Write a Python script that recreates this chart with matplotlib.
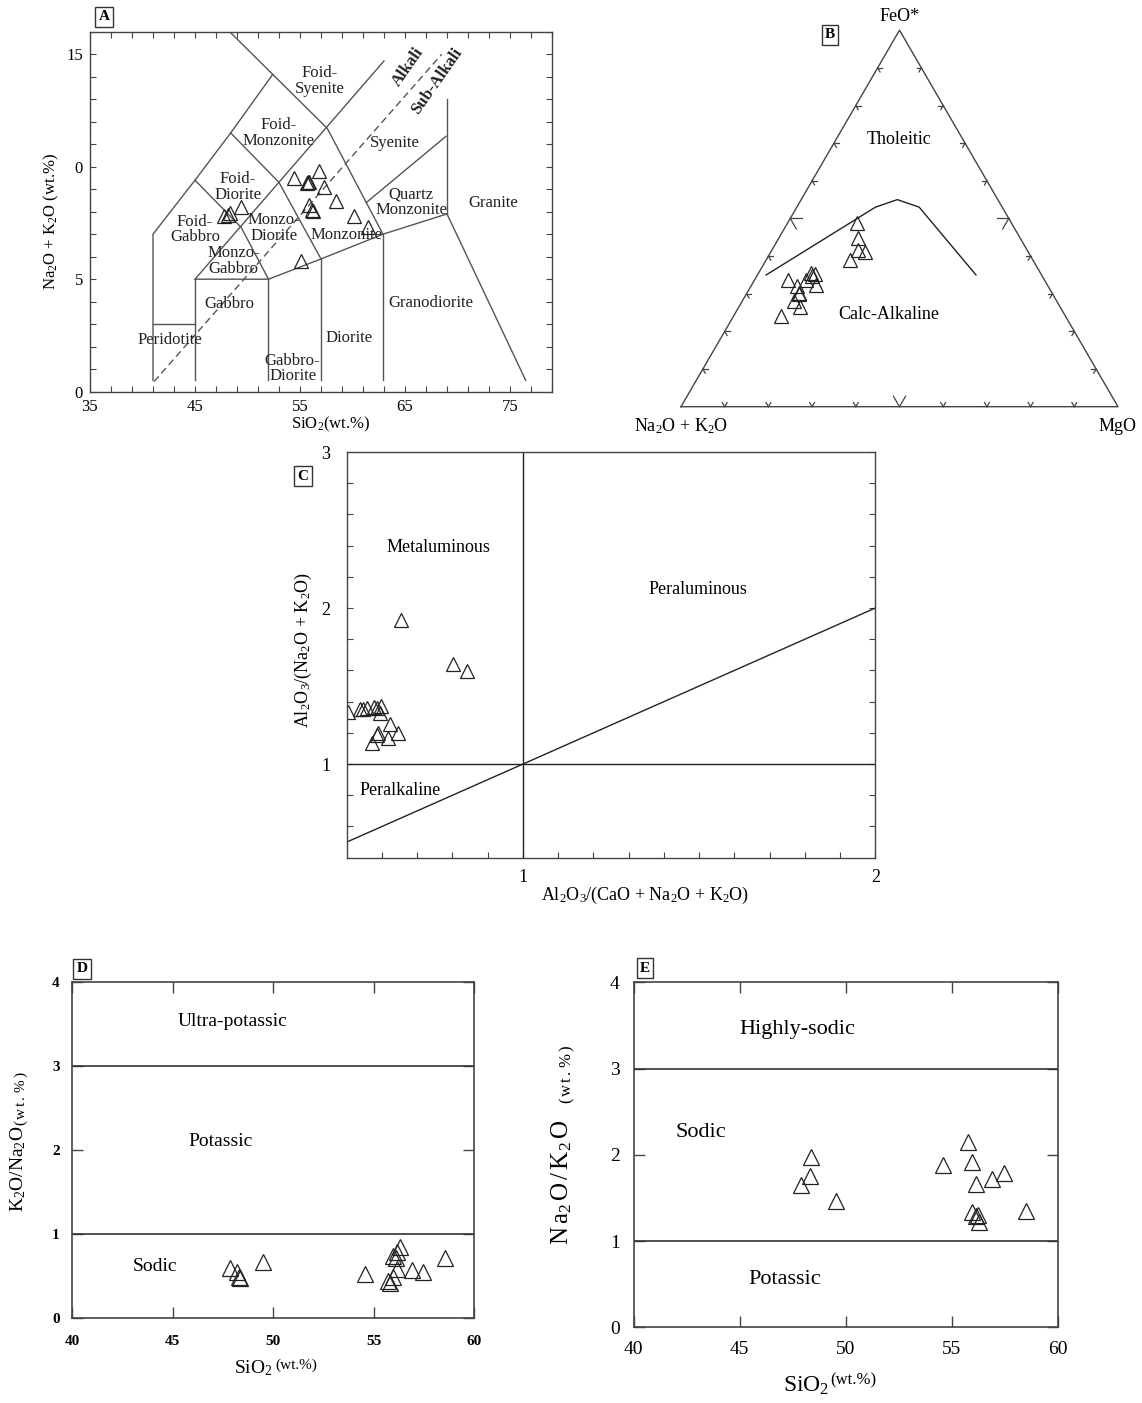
import matplotlib.pyplot as plt
import numpy as np

plt.rcParams['font.family'] = ['Liberation Serif', 'DejaVu Serif']
plt.rcParams['mathtext.fontset'] = 'custom'
plt.rcParams['mathtext.rm'] = 'Liberation Serif'
plt.rcParams['mathtext.it'] = 'Liberation Serif:italic'
plt.rcParams['mathtext.bf'] = 'Liberation Serif:bold'
plt.rcParams['mathtext.default'] = 'regular'

# ---------------- data ----------------
# A: TAS (plutonic) samples
a_sio2 = [54.4, 56.8, 55.7, 55.8, 55.9, 57.3, 58.4, 55.9, 56.1, 56.2,
          49.4, 48.3, 48.1, 47.8, 60.1, 61.5, 55.1]
a_alk = [9.5, 9.8, 9.27, 9.3, 9.33, 9.1, 8.46, 8.31, 8.09, 8.05,
         8.23, 7.94, 7.86, 7.79, 7.79, 7.3, 5.79]

# TAS field boundaries (SiO2, Na2O+K2O)
tas_lines = [
    [(41, 0.5), (41, 7), (45, 9.4), (48.4, 11.5), (52.4, 14.1)],
    [(48.3, 16), (57.6, 11.7), (62.9, 7.0)],
    [(62.9, 7.0), (62.9, 0.5)],
    [(45, 5), (52, 5), (57, 5.9), (62.9, 7.0), (69, 7.9)],
    [(45, 0.5), (45, 5)],
    [(41, 3), (45, 3)],
    [(52, 0.5), (52, 5)],
    [(57, 0.5), (57, 5.9)],
    [(45, 5), (63, 14.7)],
    [(45, 9.4), (49.4, 7.3), (52, 5)],
    [(48.4, 11.5), (53, 9.3), (57, 5.9)],
    [(61.3, 8.4), (68.9, 11.35)],
    [(69, 13.0), (69, 7.9)],
    [(69, 7.9), (76.5, 0.5)],
]
tas_dashed = [(41.1, 0.45), (68.5, 15.0)]
tas_fields = [
    ("Foid-\nSyenite", 56.9, 13.8), ("Foid-\nMonzonite", 53.0, 11.5),
    ("Syenite", 64.0, 11.05), ("Foid-\nDiorite", 49.1, 9.1),
    ("Quartz\nMonzonite", 65.6, 8.4), ("Granite", 73.4, 8.4),
    ("Foid-\nGabbro", 45.0, 7.2), ("Monzo-\nDiorite", 52.5, 7.27),
    ("Monzonite", 59.4, 6.97), ("Monzo-\nGabbro", 48.7, 5.8),
    ("Gabbro", 48.3, 3.9), ("Granodiorite", 67.5, 3.93),
    ("Peridotite", 42.6, 2.3), ("Diorite", 59.7, 2.37),
    ("Gabbro-\nDiorite", 54.3, 1.04),
]

# B: AFM ternary (Na2O+K2O, FeO*, MgO)
b_alk = [35.3, 37.0, 38.6, 37.4, 41.8, 52.5, 51.7, 52.7, 54.5, 53.0,
         58.6, 57.4, 57.8, 60.2, 59.5, 65.0, 57.9]
b_feo = [48.8, 44.8, 41.7, 41.1, 39.0, 35.5, 35.2, 34.8, 33.7, 32.2,
         33.7, 32.1, 30.2, 28.1, 26.4, 24.1, 30.0]
b_mgo = [15.9, 18.2, 19.7, 21.5, 19.2, 12.0, 13.1, 12.5, 11.8, 14.8,
         7.7, 10.5, 12.0, 11.7, 14.1, 10.9, 12.1]
afm_curve_alk = [63, 29, 23, 19, 15]
afm_curve_feo = [35, 53, 55, 53, 35]
afm_curve_mgo = [2, 18, 22, 28, 50]

# C: A/CNK vs A/NK
c_acnk = [0.654, 0.802, 0.842, 0.505, 0.539, 0.546, 0.559, 0.578, 0.586,
          0.597, 0.594, 0.622, 0.589, 0.586, 0.645, 0.616, 0.573]
c_ank = [1.921, 1.640, 1.598, 1.336, 1.351, 1.351, 1.357, 1.368, 1.357,
         1.374, 1.326, 1.255, 1.202, 1.187, 1.202, 1.166, 1.138]
c_diag = [0.5, 2.0]

# D: K2O/Na2O vs SiO2
d_sio2 = [47.85, 48.22, 48.32, 48.35, 49.51, 54.57, 55.73, 55.98, 56.15,
          55.95, 56.18, 56.32, 56.12, 56.90, 57.48, 58.56, 55.82]
d_ratio = [0.595, 0.556, 0.496, 0.476, 0.667, 0.528, 0.448, 0.496, 0.583,
           0.742, 0.794, 0.853, 0.714, 0.575, 0.556, 0.714, 0.417]

# E: Na2O/K2O vs SiO2
e_sio2 = [48.35, 48.30, 47.90, 49.56, 54.57, 55.76, 55.95, 56.12, 56.91,
          57.45, 55.95, 56.24, 56.29, 58.49, 56.15]
e_ratio = [1.979, 1.759, 1.650, 1.469, 1.878, 2.153, 1.913, 1.662, 1.716,
           1.786, 1.333, 1.306, 1.217, 1.345, 1.287]

# ---------------- figure ----------------
W, H = 1142, 1403
fig = plt.figure(figsize=(W / 100, H / 100), dpi=100)


def rect(l, t, r, b):
    return [l / W, 1 - b / H, (r - l) / W, (b - t) / H]


def ftext(x, y, s, **kw):
    return fig.text(x / W, 1 - y / H, s, **kw)


def tag(x, y, s):
    ftext(x, y, s, ha='center', va='center', fontsize=11, fontweight='bold',
          bbox=dict(boxstyle='square,pad=0.2', fc='white', ec='#333', lw=1))


def frame(ax, color='#444', lw=1.0):
    for sp in ax.spines.values():
        sp.set_color(color)
        sp.set_linewidth(lw)


tri = dict(marker='^', ms=10, mfc='none', mec='#222', mew=0.9, ls='none')
tri_big = dict(tri, ms=11)
wt_spaced = r"$(\,w\,t\,.\,\%\,)$"

# ---- A ----
axA = fig.add_axes(rect(90, 31.7, 552, 391.7))
axA.set_xlim(35, 79)
axA.set_ylim(0, 16)
for seg in tas_lines:
    xs, ys = zip(*seg)
    axA.plot(xs, ys, color='#555', lw=1.0)
xs, ys = zip(*tas_dashed)
axA.plot(xs, ys, color='#555', lw=1.0, ls=(0, (5, 3)))
for name, x, y in tas_fields:
    axA.text(x, y, name, ha='center', va='center', fontsize=12, color='#222',
             linespacing=0.95)
axA.text(65.3, 14.45, "Alkali", rotation=55, ha='center', va='center',
         fontsize=12, fontweight='bold', color='#222')
axA.text(68.0, 13.8, "Sub-Alkali", rotation=55, ha='center', va='center',
         fontsize=12, fontweight='bold', color='#222')
axA.plot(a_sio2, a_alk, **tri)
axA.set_xticks([35, 45, 55, 65, 75])
axA.set_xticks(np.arange(35, 80, 2), minor=True)
axA.set_yticks([0, 5, 10, 15])
axA.set_yticklabels(['0', '5', '0', '15'])
axA.set_yticks(np.arange(0, 17, 1), minor=True)
axA.tick_params(which='both', direction='in', top=True, right=True,
                length=4, width=0.8, color='#444', labelsize=12, pad=5)
frame(axA)
axA.text(0.52, -0.092, "SiO$_2$(wt.%)", transform=axA.transAxes,
         ha='center', va='center', fontsize=12)
axA.text(-0.084, 0.472, "Na$_2$O + K$_2$O (wt.%)", transform=axA.transAxes,
         ha='center', va='center', rotation=90, fontsize=12)
tag(104, 17, "A")

# ---- B ----
h = np.sqrt(3) / 2


def tern(a, f, m):
    a, f, m = np.asarray(a, float), np.asarray(f, float), np.asarray(m, float)
    s = a + f + m
    return (m + f / 2) / s, f * h / s


axB = fig.add_axes(rect(681, 30.2, 1118, 406.7))
axB.set_xlim(0, 1)
axB.set_ylim(0, h)
axB.set_axis_off()
tx, ty = tern([100, 0, 0, 100], [0, 100, 0, 0], [0, 0, 100, 0])
axB.plot(tx, ty, color='#444', lw=1.0, clip_on=False)
for t in np.arange(0.1, 0.95, 0.1):
    L = 0.028 if abs(t - 0.5) < 1e-6 else 0.011
    ticks = [((t, 0), [(0.5, h), (-0.5, h)]),
             ((t / 2, t * h), [(1, 0), (0.5, -h)]),
             ((1 - t / 2, t * h), [(-1, 0), (-0.5, -h)])]
    for (px, py), dirs in ticks:
        for dx, dy in dirs:
            axB.plot([px, px + L * dx], [py, py + L * dy], color='#444',
                     lw=0.9, clip_on=False)
cx, cy = tern(afm_curve_alk, afm_curve_feo, afm_curve_mgo)
axB.plot(cx, cy, color='#222', lw=1.0)
bx, by = tern(b_alk, b_feo, b_mgo)
axB.plot(bx, by, **tri, clip_on=False)
axB.text(0.5, 0.614, "Tholeitic", ha='center', va='center', fontsize=13)
axB.text(0.476, 0.211, "Calc-Alkaline", ha='center', va='center', fontsize=13)
axB.text(0.5, 0.898, "FeO*", ha='center', va='center', fontsize=13)
axB.text(0.0, -0.045, "Na$_2$O + K$_2$O", ha='center', va='center', fontsize=13)
axB.text(1.0, -0.045, "MgO", ha='center', va='center', fontsize=13)
tag(830, 35, "B")

# ---- C ----
axC = fig.add_axes(rect(346.7, 452, 875.3, 857.7))
axC.set_xlim(0.5, 2)
axC.set_ylim(0.4, 3)
axC.axvline(1, color='#222', lw=1.0)
axC.axhline(1, color='#222', lw=1.0)
axC.plot(c_diag, c_diag, color='#222', lw=1.0)
axC.plot(c_acnk, c_ank, **tri)
axC.text(0.759, 2.389, "Metaluminous", ha='center', va='center', fontsize=13)
axC.text(1.497, 2.119, "Peraluminous", ha='center', va='center', fontsize=13)
axC.text(0.651, 0.83, "Peralkaline", ha='center', va='center', fontsize=13)
axC.set_xticks([1, 2])
axC.set_xticks(np.arange(0.6, 2.0, 0.1), minor=True)
axC.set_yticks([1, 2, 3])
axC.set_yticks(np.arange(0.6, 3.0, 0.2), minor=True)
axC.tick_params(which='both', direction='in', right=True, length=4,
                width=0.8, color='#444', labelsize=13, pad=8)
axC.tick_params(axis='y', pad=12)
frame(axC)
ftext(645, 895, "Al$_2$O$_3$/(CaO + Na$_2$O + K$_2$O)", ha='center',
      va='center', fontsize=13)
ftext(303, 650, "Al$_2$O$_3$/(Na$_2$O + K$_2$O)", ha='center', va='center',
      rotation=90, fontsize=13)
tag(303, 476, "C")

# ---- D ----
axD = fig.add_axes(rect(72.3, 982.3, 474, 1318.3))
axD.set_xlim(40, 60)
axD.set_ylim(0, 4)
for yv in (1, 3):
    axD.axhline(yv, color='#333', lw=1.2)
axD.plot(d_sio2, d_ratio, **tri_big)
axD.text(48.0, 3.53, "Ultra-potassic", ha='center', va='center', fontsize=14)
axD.text(47.4, 2.1, "Potassic", ha='center', va='center', fontsize=14)
axD.text(44.1, 0.62, "Sodic", ha='center', va='center', fontsize=14)
axD.set_xticks([40, 45, 50, 55, 60])
axD.set_yticks([0, 1, 2, 3, 4])
axD.tick_params(direction='in', top=True, right=True, length=8, width=1.0,
                color='#444', labelsize=11)
axD.tick_params(axis='x', pad=12)
axD.tick_params(axis='y', pad=9)
for lab in axD.get_xticklabels() + axD.get_yticklabels():
    lab.set_fontweight('bold')
frame(axD, lw=1.2)
ftext(273, 1368, "SiO$_2$", ha='right', va='center', fontsize=14)
ftext(275, 1365, "(wt.%)", ha='left', va='center', fontsize=11)
ftext(18, 1212, "K$_2$O/Na$_2$O", ha='center', va='bottom', rotation=90,
      fontsize=14)
ftext(21, 1126, wt_spaced, ha='center', va='bottom', rotation=90, fontsize=11)
tag(82, 969, "D")

# ---- E ----
axE = fig.add_axes(rect(633.6, 982.3, 1058, 1327.3))
axE.set_xlim(40, 60)
axE.set_ylim(0, 4)
for yv in (1, 3):
    axE.axhline(yv, color='#333', lw=1.2)
axE.plot(e_sio2, e_ratio, **tri_big)
axE.text(47.7, 3.455, "Highly-sodic", ha='center', va='center', fontsize=16)
axE.text(43.15, 2.26, "Sodic", ha='center', va='center', fontsize=16)
axE.text(47.1, 0.56, "Potassic", ha='center', va='center', fontsize=16)
axE.set_xticks([40, 45, 50, 55, 60])
axE.set_yticks([0, 1, 2, 3, 4])
axE.tick_params(direction='in', top=True, right=True, length=8, width=1.0,
                color='#444', labelsize=14, pad=10)
frame(axE, lw=1.2)
ftext(829, 1386, "SiO$_2$", ha='right', va='center', fontsize=17)
ftext(830, 1380, "(wt.%)", ha='left', va='center', fontsize=12)
ftext(562, 1245, r"$N\,a_2\,O\,/\,K_2\,O$", ha='center', va='bottom',
      rotation=90, fontsize=18)
ftext(567, 1104, wt_spaced, ha='center', va='bottom', rotation=90, fontsize=12)
tag(645, 968, "E")

fig.savefig("out.png", dpi=100)
